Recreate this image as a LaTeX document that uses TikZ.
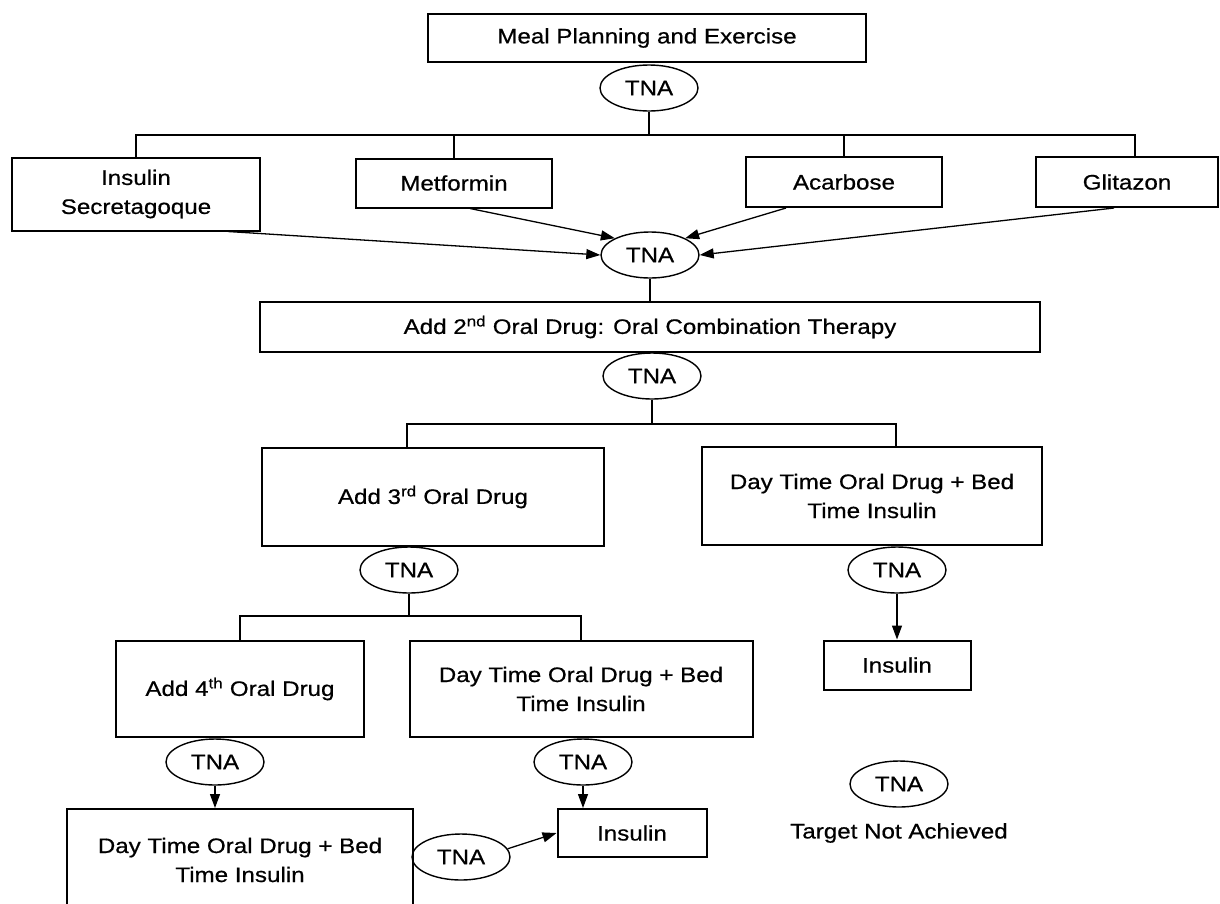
\documentclass[tikz,border=0pt]{standalone}
\usepackage{fontspec}
\setmainfont{Liberation Sans}[FakeStretch=1.15, FakeBold=0.6]
\usetikzlibrary{arrows.meta,shapes.geometric}
\newcommand{\flowfont}{\fontsize{21}{29}\selectfont}

\begin{document}
\begin{tikzpicture}[x=1pt, y=-1pt,
    box/.style={draw, line width=2pt, align=center, inner sep=0pt, font=\flowfont},
    tna/.style={draw, ellipse, line width=1.4pt, inner sep=0pt, font=\flowfont,
                minimum width=98pt, minimum height=46pt},
    link/.style={line width=1.3pt},
    arr/.style={line width=1.3pt, -{Triangle[length=14pt,width=10pt]}}
  ]
    \useasboundingbox (0,0) rectangle (1220,903);
    \clip (0,0) rectangle (1220,903);

    \node[box, minimum width=438pt, minimum height=48pt] (meal) at (647,38) {Meal Planning and Exercise};
    \node[tna] (tnaA) at (649,88) {TNA};

    \node[box, minimum width=248pt, minimum height=73pt] (insec) at (136,194) {Insulin\\Secretagoque};
    \node[box, minimum width=196pt, minimum height=49pt] (metf) at (454,183) {Metformin};
    \node[box, minimum width=196pt, minimum height=50pt] (acarb) at (844,182) {Acarbose};
    \node[box, minimum width=182pt, minimum height=50pt] (glit) at (1127,182) {Glitazon};
    \node[tna] (tnaB) at (650,255) {TNA};

    \node[box, minimum width=780pt, minimum height=50pt] (combo) at (650,327)
      {Add 2\textsuperscript{nd} Oral Drug: Oral Combination Therapy};
    \node[tna] (tnaC) at (652,376) {TNA};

    \node[box, minimum width=342pt, minimum height=98pt] (third) at (433,497) {Add 3\textsuperscript{rd} Oral Drug};
    \node[box, minimum width=340pt, minimum height=98pt] (dayR) at (872,496)
      {Day Time Oral Drug + Bed\\Time Insulin};
    \node[tna] (tnaD) at (409,570) {TNA};
    \node[tna] (tnaE) at (897,570) {TNA};
    \node[box, minimum width=147pt, minimum height=49pt] (insR) at (897,665) {Insulin};

    \node[box, minimum width=248pt, minimum height=96pt] (fourth) at (240,689) {Add 4\textsuperscript{th} Oral Drug};
    \node[box, minimum width=343pt, minimum height=96pt] (dayM) at (581,689)
      {Day Time Oral Drug + Bed\\Time Insulin};
    \node[tna] (tnaF) at (215,762) {TNA};
    \node[tna] (tnaG) at (583,762) {TNA};

    \node[box, minimum width=346pt, minimum height=102pt] (dayL) at (240,860)
      {Day Time Oral Drug + Bed\\Time Insulin};
    \node[tna] (tnaH) at (461,857) {TNA};
    \node[box, minimum width=149pt, minimum height=48pt] (insM) at (632,833) {Insulin};

    \node[tna] (tnaL) at (899,784) {TNA};
    \node[font=\flowfont] (legend) at (899,833) {Target Not Achieved};

    \coordinate (barA) at (649,135);
    \draw[link] (tnaA.south) -- (barA);
    \draw[link] (barA) -| (insec.north);
    \draw[link] (barA) -| (metf.north);
    \draw[link] (barA) -| (acarb.north);
    \draw[link] (barA) -| ([xshift=8pt]glit.north);

    \draw[arr] ([xshift=-33pt]insec.south east) -- (tnaB.west);
    \draw[arr] ([xshift=16pt]metf.south) -- (tnaB.north west);
    \draw[arr] ([xshift=-58pt]acarb.south) -- (tnaB.north east);
    \draw[arr] ([xshift=-13pt]glit.south) -- (tnaB.east);
    \draw[link] (tnaB.south) -- (combo.north);

    \coordinate (barC) at (652,424);
    \draw[link] (tnaC.south) -- (barC);
    \draw[link] (barC) -| ([xshift=-26pt]third.north);
    \draw[link] (barC) -| ([xshift=24pt]dayR.north);
    \draw[arr] (tnaE.south) -- (insR.north);

    \coordinate (barD) at (409,616);
    \draw[link] (tnaD.south) -- (barD);
    \draw[link] (barD) -| (fourth.north);
    \draw[link] (barD) -| (dayM.north);
    \draw[arr] (tnaF.south) -- (tnaF.south |- dayL.north);
    \draw[arr] (tnaG.south) -- (tnaG.south |- insM.north);
    \draw[arr] (tnaH.10) -- (insM.west);
  \end{tikzpicture}
\end{document}
